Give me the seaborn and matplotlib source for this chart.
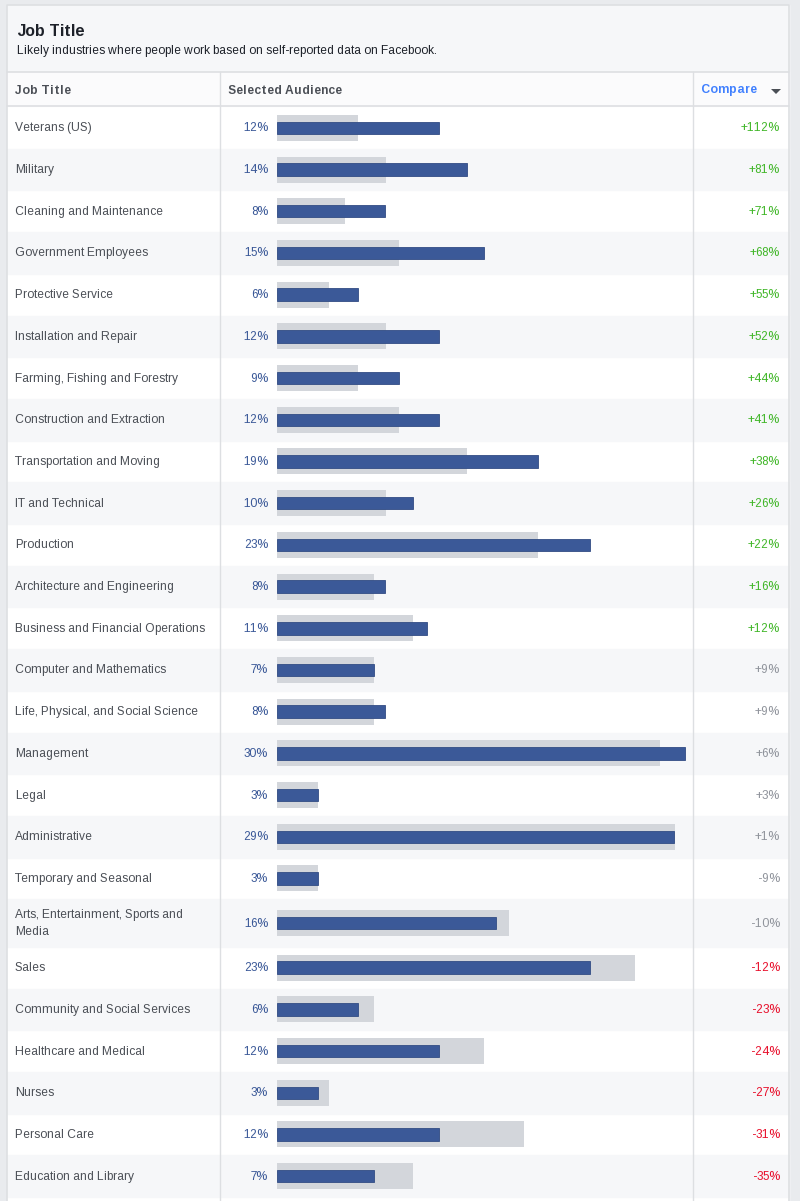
import matplotlib
matplotlib.use("Agg")
import matplotlib.pyplot as plt
import seaborn as sns

# --- Data ---
job_titles = [
    "Veterans (US)", "Military", "Cleaning and Maintenance", "Government Employees",
    "Protective Service", "Installation and Repair", "Farming, Fishing and Forestry",
    "Construction and Extraction", "Transportation and Moving", "IT and Technical",
    "Production", "Architecture and Engineering", "Business and Financial Operations",
    "Computer and Mathematics", "Life, Physical, and Social Science", "Management",
    "Legal", "Administrative", "Temporary and Seasonal",
    "Arts, Entertainment, Sports and\nMedia", "Sales", "Community and Social Services",
    "Healthcare and Medical", "Nurses", "Personal Care", "Education and Library",
]
selected_pct = [12.0, 14.1, 8.0, 15.3, 6.0, 12.0, 9.0, 12.0, 19.3, 10.1,
                23.2, 8.0, 11.1, 7.2, 8.0, 30.2, 3.0, 29.4, 3.0,
                16.2, 23.2, 6.0, 12.0, 3.0, 12.0, 7.2]
benchmark_pct = [6.0, 8.1, 5.0, 9.0, 3.85, 8.1, 6.0, 9.0, 14.1, 8.1,
                 19.3, 7.2, 10.1, 7.2, 7.2, 28.4, 3.0, 29.5, 3.0,
                 17.2, 26.5, 7.2, 15.3, 3.85, 18.3, 10.1]
compare_labels = ["+112%", "+81%", "+71%", "+68%", "+55%", "+52%", "+44%", "+41%",
                  "+38%", "+26%", "+22%", "+16%", "+12%", "+9%", "+9%", "+6%",
                  "+3%", "+1%", "-9%", "-10%", "-12%", "-23%", "-24%", "-27%",
                  "-31%", "-35%"]
significant = [True] * 13 + [False] * 7 + [True] * 6

# --- Styling ---
sns.set_style("white")
plt.rcParams["font.family"] = ["Liberation Sans", "DejaVu Sans"]
plt.rcParams["text.hinting_factor"] = 1

page_bg = "#e9ebee"
border = "#dddfe2"
stripe = "#f6f7f9"
fb_blue = "#3b5998"
bench_gray = "#d3d6db"
text_dark = "#4b4f56"
title_dark = "#1d2129"

W, H = 800, 1201
fig = plt.figure(figsize=(W / 100, H / 100), dpi=100)
fig.patch.set_facecolor(page_bg)

# background axes in pixel coordinates for the table chrome
bg = fig.add_axes([0, 0, 1, 1])
bg.set_xlim(0, W)
bg.set_ylim(H, 0)
bg.axis("off")

card_l, card_r, card_t = 7, 789, 5
col1, col2 = 220, 693
head_b, colhead_b = 72, 106

bg.fill_between([card_l, card_r], card_t, H, color="white", zorder=0)
bg.fill_between([card_l, card_r], card_t, head_b, color=stripe, zorder=0)
bg.fill_between([card_l, card_r], head_b, colhead_b, color="#fbfbfc", zorder=0)

bg.text(17, 31.5, "Job Title", fontsize=11.8, fontweight="bold", color=title_dark, va="center")
bg.text(17, 51, "Likely industries where people work based on self-reported data on Facebook.",
        fontsize=8.3, color=title_dark, va="center")

bg.text(15, 90.5, "Job Title", fontsize=8.6, fontweight="bold", color=text_dark, va="center")
bg.text(228, 90.5, "Selected Audience", fontsize=8.6, fontweight="bold", color=text_dark, va="center")
bg.text(701, 90.5, "Compare", fontsize=8.6, fontweight="bold", color="#4080ff", va="center")
bg.fill([771, 781, 776], [89, 89, 94], color=text_dark, lw=0, zorder=3)

# rows
row_h, tall_h = 41.7, 47.5
centers = []
top = colhead_b + 1
for i, name in enumerate(job_titles):
    h = tall_h if "\n" in name else row_h
    if i % 2 == 1:
        bg.fill_between([card_l, card_r], top, top + h, color=stripe, zorder=1)
    c = top + h / 2
    centers.append(c)
    bg.text(15, c + 0.5, name, fontsize=8.4, color=text_dark, va="center", linespacing=1.5)
    bg.text(268, c + 0.5, f"{round(selected_pct[i])}%", fontsize=8.4, color=fb_blue,
            va="center", ha="right")
    if significant[i]:
        col = "#42b72a" if compare_labels[i].startswith("+") else "#e8112d"
    else:
        col = "#90949c"
    bg.text(780, c + 0.5, compare_labels[i], fontsize=8.4, color=col, va="center", ha="right")
    top += h

# lines
bg.plot([card_l, card_r], [head_b, head_b], color=border, lw=1.2, zorder=4)
bg.plot([card_l, card_r], [colhead_b, colhead_b], color=border, lw=1.2, zorder=4)
bg.plot([col1, col1], [head_b, H], color=border, lw=1, zorder=4)
bg.plot([col2, col2], [head_b, H], color=border, lw=1, zorder=4)
bg.plot([card_l, card_l, card_r, card_r], [H, card_t, card_t, H], color=border, lw=1.2, zorder=4)

# bar axes: x in percent, y in pixel rows
ax = fig.add_axes([0, 0, 1, 1])
ax.patch.set_alpha(0)
zero_px, px_per_pct = 277, 13.5

sns.barplot(x=benchmark_pct, y=centers, orient="y", native_scale=True,
            width=26 / row_h, color=bench_gray, saturation=1, linewidth=0, ax=ax)
sns.barplot(x=selected_pct, y=centers, orient="y", native_scale=True,
            width=12.5 / row_h, color=fb_blue, saturation=1, edgecolor="#324c84",
            linewidth=0.6, ax=ax)

ax.set_xlim(-zero_px / px_per_pct, (W - zero_px) / px_per_pct)
ax.set_ylim(H, 0)
ax.axis("off")

fig.savefig("out.png", dpi=100, facecolor=page_bg)
